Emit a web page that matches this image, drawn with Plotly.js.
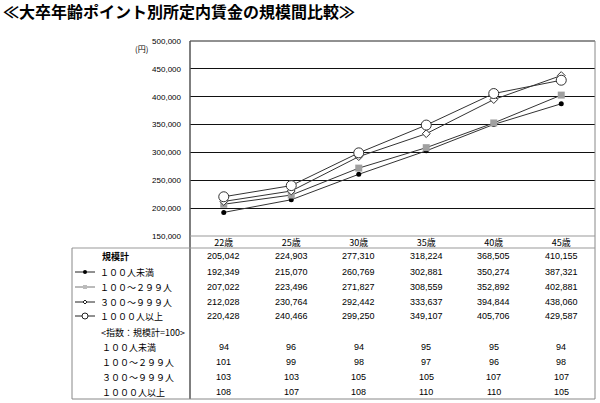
<!DOCTYPE html>
<html><head><meta charset="utf-8">
<script src="https://cdn.plot.ly/plotly-3.0.1.min.js"></script>
<style>html,body{margin:0;padding:0;background:#fff}#chart{width:600px;height:403px}</style>
</head><body><div id="chart"></div>
<script>
// ---- data ----
const categories = ['22歳','25歳','30歳','35歳','40歳','45歳'];
const totalAll   = [205042, 224903, 277310, 318224, 368505, 410155];
const under100   = [192349, 215070, 260769, 302881, 350274, 387321];
const s100_299   = [207022, 223496, 271827, 308559, 352892, 402881];
const s300_999   = [212028, 230764, 292442, 333637, 394844, 438060];
const over1000   = [220428, 240466, 299250, 349107, 405706, 429587];
const idxUnder100 = [94, 96, 94, 95, 95, 94];
const idx100_299  = [101, 99, 98, 97, 96, 98];
const idx300_999  = [103, 103, 105, 105, 107, 107];
const idxOver1000 = [108, 107, 108, 110, 110, 105];
const seriesNames = ['１００人未満','１００～２９９人','３００～９９９人','１０００人以上'];
const yTicks = [150000,200000,250000,300000,350000,400000,450000,500000];

// ---- geometry helpers (pixel -> paper) ----
const L=190, R=595, T=41, B=236, W=R-L, H=B-T;
const px = x => (x-L)/W;
const py = y => (B-y)/H;
const fmt = v => v.toLocaleString('en-US');

const lineCol = '#333';
const styles = [
  {symbol:'circle', size:5, color:'#000', line:{color:'#000', width:0}},
  {symbol:'square', size:7, color:'#a0a0a0', line:{color:'#a0a0a0', width:0}},
  {symbol:'diamond', size:6, color:'#fff', line:{color:'#333', width:1}},
  {symbol:'circle', size:10, color:'#fff', line:{color:'#333', width:1}}
];
const seriesVals = [under100, s100_299, s300_999, over1000];

const traces = seriesVals.map((vals,i)=>({
  type:'scatter', mode:'lines+markers', name:seriesNames[i],
  x:categories, y:vals, cliponaxis:false,
  line:{color:lineCol, width:1},
  marker:styles[i], showlegend:false, hoverinfo:'skip'
}));

const font = 'Liberation Sans, Arial, sans-serif';
const jfont = 'Noto Sans CJK JP, sans-serif';
const annotations = [];
const shapes = [];

// y unit
annotations.push({xref:'paper', yref:'paper', x:px(141), y:py(48), text:'(円)', showarrow:false,
  font:{family:jfont, size:8, color:'#000'}, xanchor:'center', yanchor:'middle'});

// value rows
const valueRows = [totalAll, under100, s100_299, s300_999, over1000];
const valueRowY = [256, 272, 287, 302, 316];
valueRows.forEach((row,r)=>{
  row.forEach((v,c)=>{
    annotations.push({xref:'x', yref:'paper', x:categories[c], y:py(valueRowY[r]), text:fmt(v),
      showarrow:false, font:{family:font, size:9, color:'#000'}, xanchor:'center', yanchor:'middle'});
  });
});
const idxRows = [idxUnder100, idx100_299, idx300_999, idxOver1000];
const idxRowY = [347, 362, 377, 392];
idxRows.forEach((row,r)=>{
  row.forEach((v,c)=>{
    annotations.push({xref:'x', yref:'paper', x:categories[c], y:py(idxRowY[r]), text:String(v),
      showarrow:false, font:{family:font, size:9, color:'#000'}, xanchor:'center', yanchor:'middle'});
  });
});

// row labels
annotations.push({xref:'paper', yref:'paper', x:px(100), y:py(256), text:'<b>規模計</b>', showarrow:false,
  font:{family:jfont, size:9, color:'#000'}, xanchor:'left', yanchor:'middle'});
seriesNames.forEach((n,i)=>{
  annotations.push({xref:'paper', yref:'paper', x:px(98), y:py(valueRowY[i+1]), text:n, showarrow:false,
    font:{family:jfont, size:9, color:'#000'}, xanchor:'left', yanchor:'middle'});
  annotations.push({xref:'paper', yref:'paper', x:px(100), y:py(idxRowY[i]), text:n, showarrow:false,
    font:{family:jfont, size:9, color:'#000'}, xanchor:'left', yanchor:'middle'});
});
annotations.push({xref:'paper', yref:'paper', x:px(99), y:py(332), text:'&lt;指数：規模計=100&gt;', showarrow:false,
  font:{family:jfont, size:9, color:'#000'}, xanchor:'left', yanchor:'middle'});

// legend icons in table
seriesNames.forEach((n,i)=>{
  const yy = py(valueRowY[i+1]);
  shapes.push({type:'line', xref:'paper', yref:'paper', x0:px(75), x1:px(95), y0:yy, y1:yy,
    line:{color: i===1 ? '#777' : '#222', width:1}});
  const base = {xref:'paper', yref:'paper', xsizemode:'pixel', ysizemode:'pixel', xanchor:px(85), yanchor:yy};
  if(i===0) shapes.push(Object.assign({type:'circle', x0:-2, x1:2, y0:-2, y1:2, fillcolor:'#000', line:{width:0}}, base));
  if(i===1) shapes.push(Object.assign({type:'rect', x0:-2, x1:2, y0:-2, y1:2, fillcolor:'#bbb', line:{width:0}}, base));
  if(i===2) shapes.push(Object.assign({type:'path', path:'M0,2 L2,0 L0,-2 L-2,0 Z', fillcolor:'#fff', line:{color:'#222', width:1}}, base));
  if(i===3) shapes.push(Object.assign({type:'circle', x0:-3, x1:3, y0:-3, y1:3, fillcolor:'#fff', line:{color:'#222', width:1}}, base));
});

// frame / table lines
const ln = (x0,y0,x1,y1,c,w)=>shapes.push({type:'line', xref:'paper', yref:'paper',
  x0:px(x0), y0:py(y0), x1:px(x1), y1:py(y1), line:{color:c, width:w||1}, layer:'above'});
ln(190,41,595,41,'#222');
ln(595,41,595,399,'#888');
ln(190,41,190,399,'#555',1.5);
ln(190,236,595,236,'#999');
ln(72,248,595,248,'#999');
ln(72,248,72,399,'#888');
ln(72,399,595,399,'#888');

const layout = {
  width:600, height:403,
  margin:{l:L, r:600-R, t:T, b:403-B, pad:0},
  paper_bgcolor:'#fff', plot_bgcolor:'#fff',
  title:{text:'<b>≪大卒年齢ポイント別所定内賃金の規模間比較≫</b>', xref:'container', yref:'container',
    x:0.005, xanchor:'left', y:1-12/403, yanchor:'middle',
    font:{family:jfont, size:16, color:'#000'}},
  xaxis:{type:'category', categoryorder:'array', categoryarray:categories, range:[-0.5,5.5],
    showgrid:false, zeroline:false, showline:false, ticks:'',
    tickfont:{family:jfont, size:9, color:'#000'}, ticklabelstandoff:0, fixedrange:true},
  yaxis:{range:[150000,500000], tickvals:yTicks, ticktext:yTicks.map(fmt),
    showgrid:true, gridcolor:'#111', gridwidth:1, zeroline:false, showline:false, ticks:'',
    tickfont:{family:font, size:8, color:'#000'}, ticklabelstandoff:8, fixedrange:true},
  annotations, shapes,
  showlegend:false, hovermode:false
};
Plotly.newPlot('chart', traces, layout, {staticPlot:true, displayModeBar:false});
</script></body></html>
